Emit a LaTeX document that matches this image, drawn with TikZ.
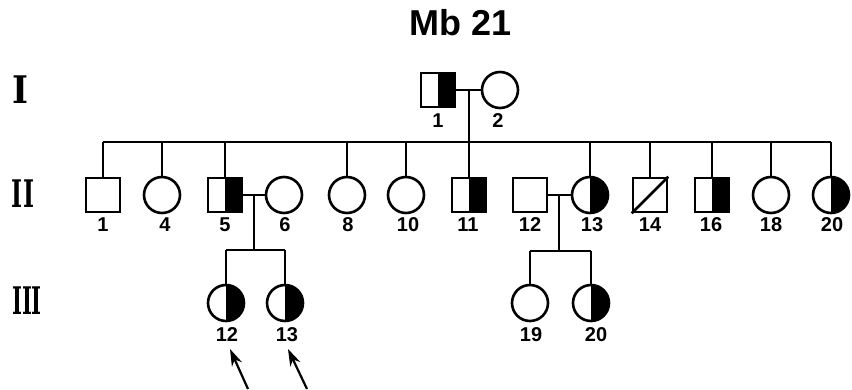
\documentclass[tikz,border=0pt]{standalone}
\usepackage{fontspec}
\usepackage{graphicx}
\setsansfont{Liberation Sans}
\newfontfamily\genfont{DejaVu Serif}
\usetikzlibrary{arrows.meta,calc}
\begin{document}
\begin{tikzpicture}[x=1pt,y=-1pt,
  ln/.style={line width=2.6pt},
  male/.style={draw,rectangle,minimum size=34pt,inner sep=0pt,line width=2.6pt},
  female/.style={draw,circle,minimum size=36pt,inner sep=0pt,line width=2.6pt},
  half/.style={path picture={\fill[black] (path picture bounding box.north) rectangle (path picture bounding box.south east);}},
  num/.style={font=\sffamily\bfseries\fontsize{20}{20}\selectfont,inner sep=0pt},
  gen/.style={font=\genfont\bfseries\fontsize{38}{38}\selectfont,inner sep=0pt},
  ttl/.style={font=\sffamily\bfseries\fontsize{36}{36}\selectfont,inner sep=0pt},
  pointer/.style={line width=2.2pt,-{Stealth[length=17pt,width=11pt]}}]
\useasboundingbox (0,0) rectangle (852,389);

% title and generation labels
\node[ttl] (title) at (461,23) {Mb 21};
\node[gen] (gI) at (20,90) {\scalebox{0.9}[1]{I}};
\node[gen] (gII) at (23,194) {\scalebox{0.62}[1]{II}};
\node[gen] (gIII) at (27,301) {\scalebox{0.56}[1]{III}};

% generation I
\node[male,half] (I1) at (438,90) {};
\node[female] (I2) at (500,90) {};
\node[num] (lI1) at (438,121) {1};
\node[num] (lI2) at (498,121) {2};

% generation II
\def\gy{195}
\node[male] (II1) at (103,\gy) {};
\node[female] (II4) at (162,\gy) {};
\node[male,half] (II5) at (225,\gy) {};
\node[female] (II6) at (284,\gy) {};
\node[female] (II8) at (347,\gy) {};
\node[female] (II10) at (406,\gy) {};
\node[male,half] (II11) at (469,\gy) {};
\node[male] (II12) at (530,\gy) {};
\node[female,half] (II13) at (590,\gy) {};
\node[male] (II14) at (650,\gy) {};
\node[male,half] (II16) at (712,\gy) {};
\node[female] (II18) at (771,\gy) {};
\node[female,half] (II20) at (831,\gy) {};
\draw[ln] (II14.south west) -- (II14.north east);

\def\ly{225}
\node[num] at (103,\ly) {1};
\node[num] at (165,\ly) {4};
\node[num] at (225,\ly) {5};
\node[num] at (285,\ly) {6};
\node[num] at (348,\ly) {8};
\node[num] at (408,\ly) {10};
\node[num] at (468,\ly) {11};
\node[num] at (530,\ly) {12};
\node[num] at (592,\ly) {13};
\node[num] at (650,\ly) {14};
\node[num] at (711,\ly) {16};
\node[num] at (771,\ly) {18};
\node[num] at (832,\ly) {20};

% generation III
\def\hy{303}
\node[female,half] (III12) at (226,\hy) {};
\node[female,half] (III13) at (285,\hy) {};
\node[female] (III19) at (530,\hy) {};
\node[female,half] (III20) at (591,\hy) {};
\node[num] (lIII12) at (227,335) {12};
\node[num] (lIII13) at (287,335) {13};
\node[num] (lIII19) at (531,335) {19};
\node[num] (lIII20) at (596,335) {20};

% marriages and descent
\draw[ln] (I1.east) -- (I2.west);
\coordinate (dI) at (469,90);
\coordinate (sibII) at (0,142);
\draw[ln] (dI) -- (dI |- sibII);
\draw[ln] (II1 |- sibII) -- (II20 |- sibII);
\foreach \c in {II1,II4,II5,II8,II10,II11,II13,II14,II16,II18,II20}
  \draw[ln] (\c |- sibII) -- (\c.north);

\draw[ln] (II5.east) -- (II6.west);
\coordinate (dA) at (254,196);
\coordinate (sibA) at (0,250);
\draw[ln] (dA) -- (dA |- sibA);
\draw[ln] (III12 |- sibA) -- (III13 |- sibA);
\foreach \c in {III12,III13} \draw[ln] (\c |- sibA) -- (\c.north);

\draw[ln] (II12.east) -- (II13.west);
\coordinate (dB) at (559,196);
\coordinate (sibB) at (0,251);
\draw[ln] (dB) -- (dB |- sibB);
\draw[ln] (III19 |- sibB) -- (III20 |- sibB);
\foreach \c in {III19,III20} \draw[ln] (\c |- sibB) -- (\c.north);

% proband arrows
\coordinate (t12) at (248,389);
\coordinate (h12) at (230,349);
\coordinate (t13) at (307,389);
\coordinate (h13) at (288,349);
\draw[pointer] (t12) -- (h12);
\draw[pointer] (t13) -- (h13);
\end{tikzpicture}
\end{document}
